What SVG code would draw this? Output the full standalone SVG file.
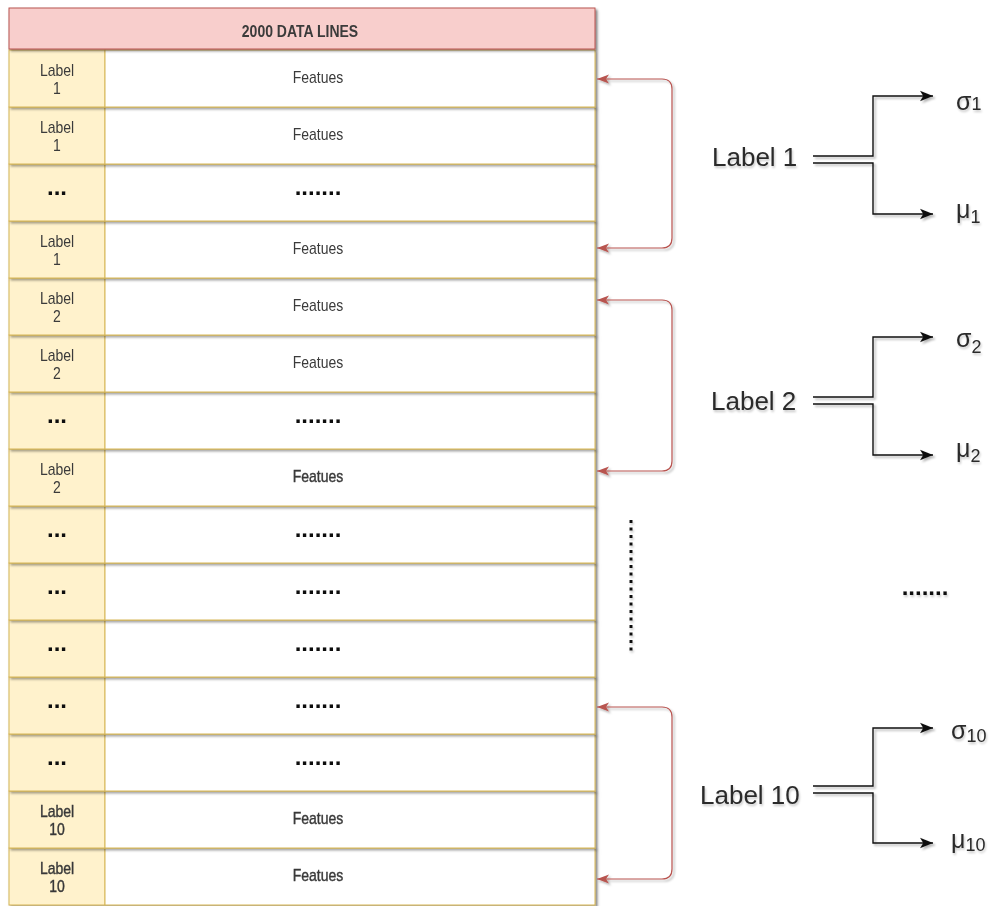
<svg xmlns="http://www.w3.org/2000/svg" width="992" height="906" viewBox="0 0 992 906">
  <style>
    .lbl { fill: #fff2cc; stroke: #d6b656; stroke-width: 1; }
    .feat { fill: #ffffff; stroke: #d6b656; stroke-width: 1; }
    .head { fill: #f8cecc; stroke: #b85450; stroke-width: 1; }
    .t { font-family: "Liberation Sans", Arial, sans-serif; font-size: 14px; fill: #3a3a3a; text-anchor: middle; }
    .hv { stroke: #3a3a3a; stroke-width: 0.35; }
    .b { font-weight: bold; }
    .dots { font-family: "Liberation Sans", Arial, sans-serif; font-size: 24px; font-weight: bold; fill: #111; text-anchor: middle; }
    .big { font-family: "Liberation Sans", Arial, sans-serif; font-size: 26px; fill: #2b2b2b; }
    .sym { font-family: "Liberation Sans", Arial, sans-serif; font-size: 25px; fill: #2b2b2b; }
    .sub { font-size: 18px; }
    .red { fill: none; stroke: #b85450; stroke-width: 1.2; }
    .blk { fill: none; stroke: #111; stroke-width: 1.4; }
  </style>
  <defs>
    <filter id="cellShadow" filterUnits="userSpaceOnUse" x="0" y="0" width="992" height="906">
      <feDropShadow dx="2" dy="2" stdDeviation="1" flood-color="#000" flood-opacity="0.35"/>
    </filter>
    <filter id="lineShadow" filterUnits="userSpaceOnUse" x="0" y="0" width="992" height="906">
      <feDropShadow dx="2" dy="2" stdDeviation="0.8" flood-color="#000" flood-opacity="0.3"/>
    </filter>
    <filter id="textShadow" filterUnits="userSpaceOnUse" x="0" y="0" width="992" height="906">
      <feDropShadow dx="1" dy="2" stdDeviation="1" flood-color="#000" flood-opacity="0.22"/>
    </filter>
    <marker id="arrowRed" viewBox="0 0 10 10" refX="10" refY="5" markerWidth="12" markerHeight="12" markerUnits="userSpaceOnUse" orient="auto-start-reverse">
      <path d="M0,1.2 L10,5 L0,8.8 L2.5,5 z" fill="#b85450"/>
    </marker>
    <marker id="arrowBlk" viewBox="0 0 10 10" refX="10" refY="5" markerWidth="13" markerHeight="13" markerUnits="userSpaceOnUse" orient="auto">
      <path d="M0,1 L10,5 L0,9 L2.5,5 z" fill="#111"/>
    </marker>
  </defs>

  <rect width="992" height="906" fill="#ffffff"/>

  <!-- table: rows drawn bottom-up so each shadow lies over the row beneath -->
  <g id="table" filter="url(#textShadow)">
    <g id="row-15" filter="url(#cellShadow)">
      <rect class="lbl" x="9" y="848" width="96" height="57"/>
      <rect class="feat" x="105" y="848" width="490" height="57"/>
    </g>
    <g id="row-14" filter="url(#cellShadow)">
      <rect class="lbl" x="9" y="791" width="96" height="57"/>
      <rect class="feat" x="105" y="791" width="490" height="57"/>
    </g>
    <g id="row-13" filter="url(#cellShadow)">
      <rect class="lbl" x="9" y="734" width="96" height="57"/>
      <rect class="feat" x="105" y="734" width="490" height="57"/>
    </g>
    <g id="row-12" filter="url(#cellShadow)">
      <rect class="lbl" x="9" y="677" width="96" height="57"/>
      <rect class="feat" x="105" y="677" width="490" height="57"/>
    </g>
    <g id="row-11" filter="url(#cellShadow)">
      <rect class="lbl" x="9" y="620" width="96" height="57"/>
      <rect class="feat" x="105" y="620" width="490" height="57"/>
    </g>
    <g id="row-10" filter="url(#cellShadow)">
      <rect class="lbl" x="9" y="563" width="96" height="57"/>
      <rect class="feat" x="105" y="563" width="490" height="57"/>
    </g>
    <g id="row-9" filter="url(#cellShadow)">
      <rect class="lbl" x="9" y="506" width="96" height="57"/>
      <rect class="feat" x="105" y="506" width="490" height="57"/>
    </g>
    <g id="row-8" filter="url(#cellShadow)">
      <rect class="lbl" x="9" y="449" width="96" height="57"/>
      <rect class="feat" x="105" y="449" width="490" height="57"/>
    </g>
    <g id="row-7" filter="url(#cellShadow)">
      <rect class="lbl" x="9" y="392" width="96" height="57"/>
      <rect class="feat" x="105" y="392" width="490" height="57"/>
    </g>
    <g id="row-6" filter="url(#cellShadow)">
      <rect class="lbl" x="9" y="335" width="96" height="57"/>
      <rect class="feat" x="105" y="335" width="490" height="57"/>
    </g>
    <g id="row-5" filter="url(#cellShadow)">
      <rect class="lbl" x="9" y="278" width="96" height="57"/>
      <rect class="feat" x="105" y="278" width="490" height="57"/>
    </g>
    <g id="row-4" filter="url(#cellShadow)">
      <rect class="lbl" x="9" y="221" width="96" height="57"/>
      <rect class="feat" x="105" y="221" width="490" height="57"/>
    </g>
    <g id="row-3" filter="url(#cellShadow)">
      <rect class="lbl" x="9" y="164" width="96" height="57"/>
      <rect class="feat" x="105" y="164" width="490" height="57"/>
    </g>
    <g id="row-2" filter="url(#cellShadow)">
      <rect class="lbl" x="9" y="107" width="96" height="57"/>
      <rect class="feat" x="105" y="107" width="490" height="57"/>
    </g>
    <g id="row-1" filter="url(#cellShadow)">
      <rect class="lbl" x="9" y="50" width="96" height="57"/>
      <rect class="feat" x="105" y="50" width="490" height="57"/>
    </g>
    <g id="header" filter="url(#cellShadow)">
      <rect class="head" x="9" y="8" width="586" height="41"/>
    </g>

    <!-- cell texts -->
    <g id="header-text">
      <text class="t b" transform="translate(300,37) scale(1,1.15)">2000 DATA LINES</text>
    </g>
    <g id="row-texts">
      <!-- row 1 -->
      <text class="t" transform="translate(57,76) scale(1,1.2)">Label</text>
      <text class="t" transform="translate(57,94) scale(1,1.2)">1</text>
      <text class="t" transform="translate(318,83) scale(1,1.2)">Featues</text>
      <!-- row 2 -->
      <text class="t" transform="translate(57,133) scale(1,1.2)">Label</text>
      <text class="t" transform="translate(57,151) scale(1,1.2)">1</text>
      <text class="t" transform="translate(318,140) scale(1,1.2)">Featues</text>
      <!-- row 3 -->
      <text class="dots" x="57" y="195">...</text>
      <text class="dots" x="318" y="195">.......</text>
      <!-- row 4 -->
      <text class="t" transform="translate(57,247) scale(1,1.2)">Label</text>
      <text class="t" transform="translate(57,265) scale(1,1.2)">1</text>
      <text class="t" transform="translate(318,254) scale(1,1.2)">Featues</text>
      <!-- row 5 -->
      <text class="t" transform="translate(57,304) scale(1,1.2)">Label</text>
      <text class="t" transform="translate(57,322) scale(1,1.2)">2</text>
      <text class="t" transform="translate(318,311) scale(1,1.2)">Featues</text>
      <!-- row 6 -->
      <text class="t" transform="translate(57,361) scale(1,1.2)">Label</text>
      <text class="t" transform="translate(57,379) scale(1,1.2)">2</text>
      <text class="t" transform="translate(318,368) scale(1,1.2)">Featues</text>
      <!-- row 7 -->
      <text class="dots" x="57" y="423">...</text>
      <text class="dots" x="318" y="423">.......</text>
      <!-- row 8 -->
      <text class="t" transform="translate(57,475) scale(1,1.2)">Label</text>
      <text class="t" transform="translate(57,493) scale(1,1.2)">2</text>
      <text class="t hv" transform="translate(318,482) scale(1,1.2)">Featues</text>
      <!-- rows 9 to 13 -->
      <text class="dots" x="57" y="537">...</text>
      <text class="dots" x="318" y="537">.......</text>
      <text class="dots" x="57" y="594">...</text>
      <text class="dots" x="318" y="594">.......</text>
      <text class="dots" x="57" y="651">...</text>
      <text class="dots" x="318" y="651">.......</text>
      <text class="dots" x="57" y="708">...</text>
      <text class="dots" x="318" y="708">.......</text>
      <text class="dots" x="57" y="765">...</text>
      <text class="dots" x="318" y="765">.......</text>
      <!-- row 14 -->
      <text class="t hv" transform="translate(57,817) scale(1,1.2)">Label</text>
      <text class="t hv" transform="translate(57,835) scale(1,1.2)">10</text>
      <text class="t hv" transform="translate(318,824) scale(1,1.2)">Featues</text>
      <!-- row 15 -->
      <text class="t hv" transform="translate(57,874) scale(1,1.2)">Label</text>
      <text class="t hv" transform="translate(57,892) scale(1,1.2)">10</text>
      <text class="t hv" transform="translate(318,881) scale(1,1.2)">Featues</text>
    </g>
  </g>

  <!-- right-hand nodes -->
  <g id="label-1" filter="url(#textShadow)">
    <text class="big" x="712" y="166">Label 1</text>
  </g>
  <g id="sigma-1" filter="url(#textShadow)">
    <text class="sym" x="956" y="110">σ<tspan class="sub">1</tspan></text>
  </g>
  <g id="mu-1" filter="url(#textShadow)">
    <text class="sym" x="956" y="218">μ<tspan class="sub" dy="5">1</tspan></text>
  </g>

  <g id="label-2" filter="url(#textShadow)">
    <text class="big" x="711" y="410">Label 2</text>
  </g>
  <g id="sigma-2" filter="url(#textShadow)">
    <text class="sym" x="956" y="347">σ<tspan class="sub" dy="6">2</tspan></text>
  </g>
  <g id="mu-2" filter="url(#textShadow)">
    <text class="sym" x="956" y="457">μ<tspan class="sub" dy="5">2</tspan></text>
  </g>

  <g id="label-10" filter="url(#textShadow)">
    <text class="big" x="700" y="804">Label 10</text>
  </g>
  <g id="sigma-10" filter="url(#textShadow)">
    <text class="sym" x="951" y="739">σ<tspan class="sub" dy="3">10</tspan></text>
  </g>
  <g id="mu-10" filter="url(#textShadow)">
    <text class="sym" x="951" y="848">μ<tspan class="sub" dy="3">10</tspan></text>
  </g>

  <!-- ellipsis marks between groups -->
  <g id="ellipsis-vertical">
    <line x1="631" y1="520" x2="631" y2="652" stroke="#111" stroke-width="3" stroke-dasharray="3 4.5" filter="url(#textShadow)"/>
  </g>
  <g id="ellipsis-horizontal" filter="url(#textShadow)">
    <text class="dots" x="925" y="595">.......</text>
  </g>

  <!-- connectors -->
  <g id="connectors">
    <g filter="url(#lineShadow)">
      <path class="red" d="M597,79 H662 Q672,79 672,89 V238 Q672,248 662,248 H597" marker-start="url(#arrowRed)" marker-end="url(#arrowRed)"/>
      <path class="red" d="M597,300 H662 Q672,300 672,310 V461 Q672,471 662,471 H597" marker-start="url(#arrowRed)" marker-end="url(#arrowRed)"/>
      <path class="red" d="M597,707 H662 Q672,707 672,717 V869 Q672,879 662,879 H597" marker-start="url(#arrowRed)" marker-end="url(#arrowRed)"/>
    </g>
    <g filter="url(#lineShadow)">
      <path class="blk" d="M813,156 H873 V96 H933" marker-end="url(#arrowBlk)"/>
      <path class="blk" d="M813,163 H873 V214 H933" marker-end="url(#arrowBlk)"/>
      <path class="blk" d="M813,397 H873 V337 H933" marker-end="url(#arrowBlk)"/>
      <path class="blk" d="M813,404 H873 V455 H933" marker-end="url(#arrowBlk)"/>
      <path class="blk" d="M813,786 H873 V728 H933" marker-end="url(#arrowBlk)"/>
      <path class="blk" d="M813,793 H873 V843 H933" marker-end="url(#arrowBlk)"/>
    </g>
  </g>
</svg>
